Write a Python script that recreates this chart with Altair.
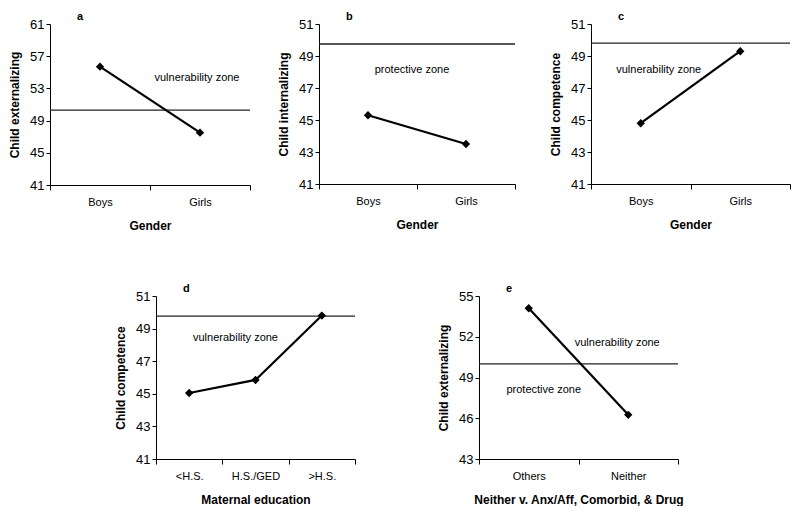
import altair as alt
import pandas as pd

FONT = "Liberation Sans"

# ---- data ----
a_cats = ["Boys", "Girls"]
a_vals = [55.7, 47.5]
a_ref = 50.3

b_cats = ["Boys", "Girls"]
b_vals = [45.3, 43.5]
b_ref = 49.75

c_cats = ["Boys", "Girls"]
c_vals = [44.8, 49.3]
c_ref = 49.8

d_cats = ["<H.S.", "H.S./GED", ">H.S."]
d_vals = [45.05, 45.85, 49.8]
d_ref = 49.77

e_cats = ["Others", "Neither"]
e_vals = [54.1, 46.25]
e_ref = 50.0

ticks_a = [41, 45, 49, 53, 57, 61]
ticks_bcd = [41, 43, 45, 47, 49, 51]
ticks_e = [43, 46, 49, 52, 55]

# notes: (label, category anchor, y value, dx offset)
a_notes = [("vulnerability zone", "Girls", 54.3, -3)]
b_notes = [("protective zone", "Boys", 48.1, 44)]
c_notes = [("vulnerability zone", "Boys", 48.1, 18)]
d_notes = [("vulnerability zone", "H.S./GED", 48.42, -20)]
e_notes = [("vulnerability zone", "Neither", 51.53, -11),
           ("protective zone", "Others", 48.09, 15)]


def panel(cats, vals, ref, ticks, ytitle, xtitle, letter, notes, width, height):
    df = pd.DataFrame({"cat": cats, "val": vals})
    x = alt.X("cat:N", sort=cats,
              scale=alt.Scale(type="band", paddingInner=0, paddingOuter=0),
              axis=alt.Axis(title=xtitle, tickBand="extent", labelAngle=0,
                            tickSize=5, labelPadding=6, titlePadding=13,
                            labelFontSize=11, titleFontSize=12,
                            titleFontWeight="bold"))
    y = alt.Y("val:Q",
              scale=alt.Scale(domain=[ticks[0], ticks[-1]], nice=False, zero=False),
              axis=alt.Axis(title=ytitle, values=ticks, tickSize=4, labelPadding=2,
                            titlePadding=8, labelFontSize=13, titleFontSize=12,
                            titleFontWeight="bold"))
    rule = alt.Chart(pd.DataFrame({"val": [ref]})).mark_rule(
        color="#222222", strokeWidth=1.3).encode(y=y)
    line = alt.Chart(df).mark_line(color="black", strokeWidth=2.2).encode(x=x, y=y)
    pts = alt.Chart(df).mark_point(shape="diamond", filled=True, size=70,
                                   color="black", opacity=1).encode(x=x, y=y)
    layers = [rule, line, pts]
    for lab, cat, v, dx in notes:
        ndf = pd.DataFrame({"cat": [cat], "val": [v], "label": [lab]})
        layers.append(alt.Chart(ndf).mark_text(font=FONT, fontSize=11, color="black",
                                               dx=dx).encode(x=x, y=y, text="label:N"))
    return alt.layer(*layers).properties(
        width=width, height=height,
        title=alt.TitleParams(letter, anchor="start", frame="group", dx=27, offset=-4,
                              fontSize=11, fontWeight="bold", font=FONT))


def spacer(w):
    return alt.Chart(pd.DataFrame({"v": [0]})).mark_point(opacity=0).encode(
        x=alt.value(0), y=alt.value(0)).properties(width=w, height=1)


pa = panel(a_cats, a_vals, a_ref, ticks_a, "Child externalizing", "Gender", "a", a_notes, 200, 161)
pb = panel(b_cats, b_vals, b_ref, ticks_bcd, "Child internalizing", "Gender", "b", b_notes, 196, 160)
pc = panel(c_cats, c_vals, c_ref, ticks_bcd, "Child competence", "Gender", "c", c_notes, 199, 160)
pd_ = panel(d_cats, d_vals, d_ref, ticks_bcd, "Child competence", "Maternal education", "d", d_notes, 199, 163)
pe = panel(e_cats, e_vals, e_ref, ticks_e, "Child externalizing",
           "Neither v. Anx/Aff, Comorbid, & Drug", "e", e_notes, 199, 163)

top = alt.hconcat(pa, spacer(69), pb, spacer(76), pc, spacing=0, bounds="flush")
bottom = alt.hconcat(spacer(106), pd_, spacer(124), pe, spacing=0, bounds="flush")

chart = alt.vconcat(top, bottom, spacing=272, bounds="flush").properties(
    padding={"left": 0, "top": 2, "right": 0, "bottom": 0},
    background="white"
).configure_view(stroke="transparent").configure_axis(
    domainColor="black", tickColor="black", labelColor="black", titleColor="black",
    labelFont=FONT, titleFont=FONT, grid=False
)

chart.save("out.html", embed_options={"renderer": "svg", "actions": False})
